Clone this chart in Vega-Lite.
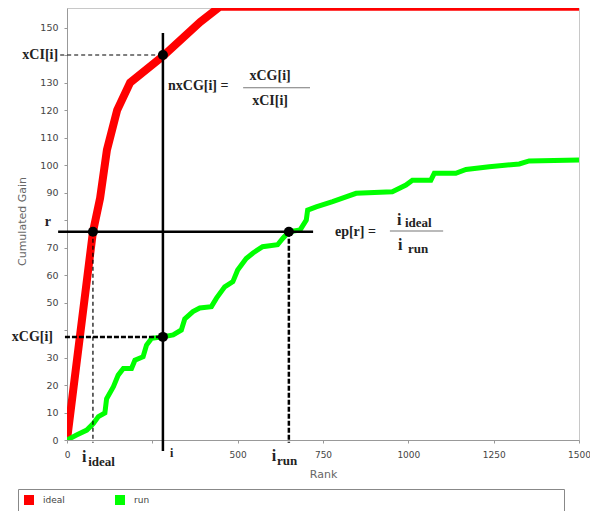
{
  "$schema": "https://vega.github.io/schema/vega-lite/v6.json",
  "width": 512,
  "height": 432,
  "autosize": {"type": "none"},
  "padding": {"left": 67, "top": 8, "right": 11, "bottom": 71},
  "background": "white",
  "config": {
    "view": {"stroke": "#c8c8c8", "strokeWidth": 1},
    "axis": {"grid": false, "labelOverlap": false},
    "axisY": {"labelOverlap": false}
  },
  "datasets": {
    "curves": [
      {"series": "ideal", "rank": 0, "gain": 0},
      {"series": "ideal", "rank": 76, "gain": 75.7},
      {"series": "ideal", "rank": 97, "gain": 88},
      {"series": "ideal", "rank": 117, "gain": 105.5},
      {"series": "ideal", "rank": 147, "gain": 120},
      {"series": "ideal", "rank": 185, "gain": 130},
      {"series": "ideal", "rank": 281, "gain": 139.6},
      {"series": "ideal", "rank": 390, "gain": 152},
      {"series": "ideal", "rank": 448, "gain": 157.6},
      {"series": "ideal", "rank": 1500, "gain": 157.6},
      {"series": "run", "rank": 0, "gain": 0},
      {"series": "run", "rank": 28, "gain": 1.8},
      {"series": "run", "rank": 58, "gain": 3.6},
      {"series": "run", "rank": 77, "gain": 6},
      {"series": "run", "rank": 92, "gain": 8.5},
      {"series": "run", "rank": 111, "gain": 9.8},
      {"series": "run", "rank": 116, "gain": 15},
      {"series": "run", "rank": 136, "gain": 19.4},
      {"series": "run", "rank": 150, "gain": 23.6},
      {"series": "run", "rank": 165, "gain": 26},
      {"series": "run", "rank": 189, "gain": 26},
      {"series": "run", "rank": 199, "gain": 29},
      {"series": "run", "rank": 223, "gain": 30.3},
      {"series": "run", "rank": 233, "gain": 34.5},
      {"series": "run", "rank": 248, "gain": 37},
      {"series": "run", "rank": 281, "gain": 37.5},
      {"series": "run", "rank": 311, "gain": 38.2},
      {"series": "run", "rank": 335, "gain": 40},
      {"series": "run", "rank": 345, "gain": 44},
      {"series": "run", "rank": 369, "gain": 46.7},
      {"series": "run", "rank": 389, "gain": 48},
      {"series": "run", "rank": 423, "gain": 48.5},
      {"series": "run", "rank": 438, "gain": 51.6},
      {"series": "run", "rank": 462, "gain": 55.7},
      {"series": "run", "rank": 486, "gain": 57.6},
      {"series": "run", "rank": 500, "gain": 61.8},
      {"series": "run", "rank": 525, "gain": 66},
      {"series": "run", "rank": 545, "gain": 68},
      {"series": "run", "rank": 573, "gain": 70.3},
      {"series": "run", "rank": 617, "gain": 71},
      {"series": "run", "rank": 632, "gain": 73.3},
      {"series": "run", "rank": 650, "gain": 75.7},
      {"series": "run", "rank": 683, "gain": 76.4},
      {"series": "run", "rank": 701, "gain": 80},
      {"series": "run", "rank": 705, "gain": 83.6},
      {"series": "run", "rank": 730, "gain": 84.8},
      {"series": "run", "rank": 778, "gain": 86.7},
      {"series": "run", "rank": 847, "gain": 89.7},
      {"series": "run", "rank": 953, "gain": 90.3},
      {"series": "run", "rank": 993, "gain": 92.7},
      {"series": "run", "rank": 1012, "gain": 94.5},
      {"series": "run", "rank": 1066, "gain": 94.5},
      {"series": "run", "rank": 1076, "gain": 97},
      {"series": "run", "rank": 1139, "gain": 97},
      {"series": "run", "rank": 1169, "gain": 98.4},
      {"series": "run", "rank": 1237, "gain": 99.4},
      {"series": "run", "rank": 1325, "gain": 100.4},
      {"series": "run", "rank": 1354, "gain": 101.5},
      {"series": "run", "rank": 1500, "gain": 101.8}
    ],
    "solidRules": [
      {"rank": 281, "rank2": 281, "gain": -4, "gain2": 148},
      {"rank": -26, "rank2": 721, "gain": 75.7, "gain2": 75.7}
    ],
    "thinDashed": [
      {"rank": 76, "rank2": 76, "gain": 75.7, "gain2": -1},
      {"rank": -20, "rank2": 281, "gain": 140, "gain2": 140}
    ],
    "thickDashed": [
      {"rank": 650, "rank2": 650, "gain": 75.7, "gain2": -1},
      {"rank": -6, "rank2": 281, "gain": 37.5, "gain2": 37.5}
    ],
    "fractionBars": [
      {"rank": 516, "rank2": 712, "gain": 128.1, "gain2": 128.1},
      {"rank": 946, "rank2": 1102, "gain": 76, "gain2": 76}
    ],
    "marked": [
      {"rank": 281, "gain": 140},
      {"rank": 76, "gain": 75.7},
      {"rank": 650, "gain": 75.7},
      {"rank": 281, "gain": 37.5}
    ],
    "leftLabels": [
      {"rank": -26, "gain": 140, "label": "xCI[i]"},
      {"rank": -47, "gain": 79.3, "label": "r"},
      {"rank": -41, "gain": 37.6, "label": "xCG[i]"}
    ],
    "formulaLeft": [
      {"rank": 296, "gain": 128.7, "label": "nxCG[i] ="},
      {"rank": 785, "gain": 75.7, "label": "ep[r]  ="}
    ],
    "formulaCenter": [
      {"rank": 595, "gain": 132.4, "label": "xCG[i]"},
      {"rank": 595, "gain": 123.3, "label": "xCI[i]"}
    ],
    "bigI": [
      {"rank": 44, "gain": -6.2, "label": "i"},
      {"rank": 600, "gain": -5.8, "label": "i"},
      {"rank": 967, "gain": 80, "label": "i"},
      {"rank": 970, "gain": 70.9, "label": "i"}
    ],
    "smallI": [
      {"rank": 302, "gain": -4.7, "label": "i"}
    ],
    "subscripts": [
      {"rank": 62, "gain": -8, "label": "ideal"},
      {"rank": 615, "gain": -7.8, "label": "run"},
      {"rank": 990, "gain": 78.9, "label": "ideal"},
      {"rank": 999, "gain": 69.6, "label": "run"}
    ]
  },
  "layer": [
    {
      "data": {"name": "curves"},
      "transform": [{"filter": "datum.series == 'ideal'"}],
      "mark": {"type": "line", "strokeWidth": 8, "clip": true},
      "encoding": {
        "x": {
          "field": "rank", "type": "quantitative", "title": "Rank",
          "scale": {"domain": [0, 1500], "nice": false, "zero": false},
          "axis": {
            "values": [0, 250, 500, 750, 1000, 1250, 1500],
            "format": "d",
            "labelExpr": "datum.value == 250 ? '' : datum.label",
            "labelFlush": false, "labelOverlap": false,
            "labelFont": "DejaVu Sans", "labelFontSize": 9, "labelColor": "#444",
            "domainColor": "#999", "tickColor": "#999", "tickSize": 3, "labelPadding": 7,
            "titleFont": "DejaVu Sans", "titleFontSize": 11, "titleFontWeight": "normal", "titleColor": "#666",
            "titleX": 256, "titleY": 34, "titleBaseline": "middle"
          }
        },
        "y": {
          "field": "gain", "type": "quantitative", "title": "Cumulated Gain",
          "scale": {"domain": [0, 157.1], "nice": false, "zero": false},
          "axis": {
            "values": [0, 10, 20, 30, 40, 50, 60, 70, 80, 90, 100, 110, 120, 130, 140, 150],
            "tickCount": 16,
            "labelExpr": "datum.value == 40 || datum.value == 80 || datum.value == 140 ? '' : datum.label",
            "labelOverlap": false,
            "labelFont": "DejaVu Sans", "labelFontSize": 9.5, "labelColor": "#444",
            "domainColor": "#999", "tickColor": "#999", "tickSize": 3, "labelPadding": 6,
            "titleFont": "DejaVu Sans", "titleFontSize": 11, "titleFontWeight": "normal", "titleColor": "#666",
            "titleX": -45, "titleY": 213, "titleAngle": -90, "titleAlign": "center", "titleBaseline": "middle"
          }
        },
        "color": {
          "field": "series", "type": "nominal",
          "scale": {"domain": ["ideal", "run"], "range": ["#ff0000", "#00ff00"]},
          "legend": {
            "orient": "none", "legendX": -49, "legendY": 481, "direction": "horizontal",
            "title": null, "symbolType": "square", "symbolSize": 100, "symbolStrokeWidth": 0,
            "labelFont": "DejaVu Sans", "labelFontSize": 9, "labelColor": "#444",
            "labelOffset": 9, "columnPadding": 50, "strokeColor": "#888", "fillColor": "white",
            "padding": 6, "labelLimit": 1000,
            "labelExpr": "datum.label == 'run' ? pad(datum.label, 65, '\\u2800') : datum.label",
            "encode": {"symbols": {"update": {"fill": {"scale": "color", "field": "value"}, "fillOpacity": {"value": 1}}}}
          }
        }
      }
    },
    {
      "data": {"name": "curves"},
      "transform": [{"filter": "datum.series == 'run'"}],
      "mark": {"type": "line", "strokeWidth": 5, "clip": true},
      "encoding": {
        "x": {"field": "rank", "type": "quantitative"},
        "y": {"field": "gain", "type": "quantitative"},
        "color": {"field": "series", "type": "nominal"}
      }
    },
    {
      "data": {"name": "solidRules"},
      "mark": {"type": "rule", "color": "black", "strokeWidth": 2.5},
      "encoding": {
        "x": {"field": "rank", "type": "quantitative"},
        "x2": {"field": "rank2"},
        "y": {"field": "gain", "type": "quantitative"},
        "y2": {"field": "gain2"}
      }
    },
    {
      "data": {"name": "thinDashed"},
      "mark": {"type": "rule", "color": "black", "strokeWidth": 1.2, "strokeDash": [4, 3]},
      "encoding": {
        "x": {"field": "rank", "type": "quantitative"},
        "x2": {"field": "rank2"},
        "y": {"field": "gain", "type": "quantitative"},
        "y2": {"field": "gain2"}
      }
    },
    {
      "data": {"name": "thickDashed"},
      "mark": {"type": "rule", "color": "black", "strokeWidth": 2.5, "strokeDash": [5, 2]},
      "encoding": {
        "x": {"field": "rank", "type": "quantitative"},
        "x2": {"field": "rank2"},
        "y": {"field": "gain", "type": "quantitative"},
        "y2": {"field": "gain2"}
      }
    },
    {
      "data": {"name": "fractionBars"},
      "mark": {"type": "rule", "color": "#777", "strokeWidth": 1.2},
      "encoding": {
        "x": {"field": "rank", "type": "quantitative"},
        "x2": {"field": "rank2"},
        "y": {"field": "gain", "type": "quantitative"},
        "y2": {"field": "gain2"}
      }
    },
    {
      "data": {"name": "marked"},
      "mark": {"type": "point", "shape": "circle", "filled": true, "color": "black", "size": 100, "opacity": 1},
      "encoding": {
        "x": {"field": "rank", "type": "quantitative"},
        "y": {"field": "gain", "type": "quantitative"}
      }
    },
    {
      "data": {"name": "leftLabels"},
      "mark": {"type": "text", "align": "right", "baseline": "middle", "font": "Liberation Serif", "fontWeight": "bold", "fontSize": 14, "color": "#222"},
      "encoding": {
        "x": {"field": "rank", "type": "quantitative"},
        "y": {"field": "gain", "type": "quantitative"},
        "text": {"field": "label"}
      }
    },
    {
      "data": {"name": "formulaLeft"},
      "mark": {"type": "text", "align": "left", "baseline": "middle", "font": "Liberation Serif", "fontWeight": "bold", "fontSize": 14, "color": "#222"},
      "encoding": {
        "x": {"field": "rank", "type": "quantitative"},
        "y": {"field": "gain", "type": "quantitative"},
        "text": {"field": "label"}
      }
    },
    {
      "data": {"name": "formulaCenter"},
      "mark": {"type": "text", "align": "center", "baseline": "middle", "font": "Liberation Serif", "fontWeight": "bold", "fontSize": 14, "color": "#222"},
      "encoding": {
        "x": {"field": "rank", "type": "quantitative"},
        "y": {"field": "gain", "type": "quantitative"},
        "text": {"field": "label"}
      }
    },
    {
      "data": {"name": "bigI"},
      "mark": {"type": "text", "align": "left", "baseline": "middle", "font": "Liberation Serif", "fontWeight": "bold", "fontSize": 16, "color": "#222"},
      "encoding": {
        "x": {"field": "rank", "type": "quantitative"},
        "y": {"field": "gain", "type": "quantitative"},
        "text": {"field": "label"}
      }
    },
    {
      "data": {"name": "smallI"},
      "mark": {"type": "text", "align": "left", "baseline": "middle", "font": "Liberation Serif", "fontWeight": "bold", "fontSize": 12, "color": "#222"},
      "encoding": {
        "x": {"field": "rank", "type": "quantitative"},
        "y": {"field": "gain", "type": "quantitative"},
        "text": {"field": "label"}
      }
    },
    {
      "data": {"name": "subscripts"},
      "mark": {"type": "text", "align": "left", "baseline": "middle", "font": "Liberation Serif", "fontWeight": "bold", "fontSize": 13, "color": "#222"},
      "encoding": {
        "x": {"field": "rank", "type": "quantitative"},
        "y": {"field": "gain", "type": "quantitative"},
        "text": {"field": "label"}
      }
    }
  ]
}
